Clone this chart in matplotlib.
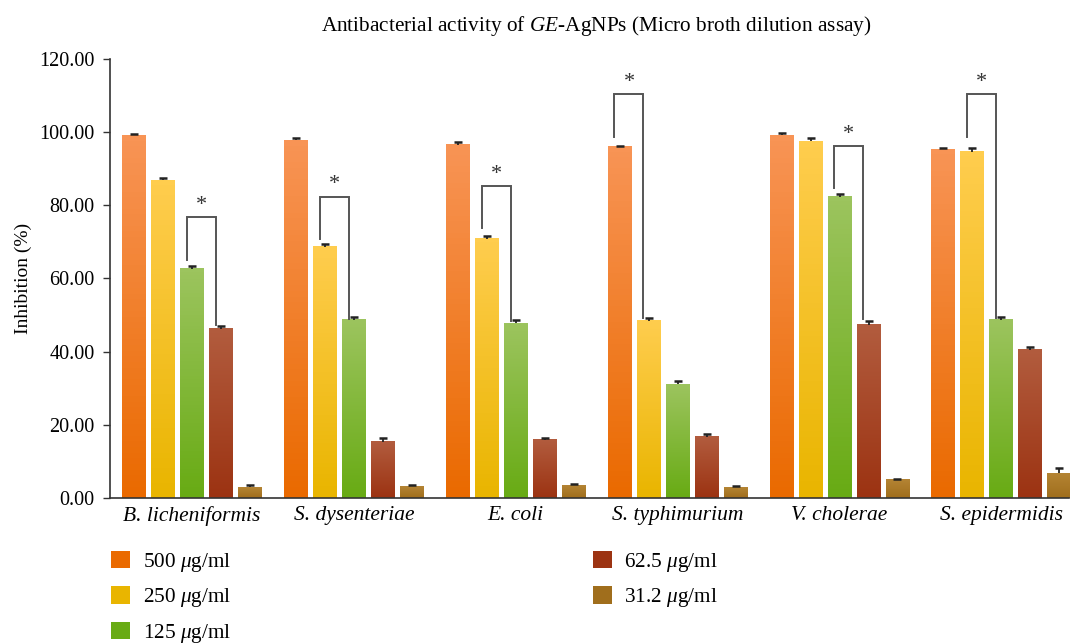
import numpy as np
import matplotlib
matplotlib.use("Agg")
import matplotlib.pyplot as plt
from matplotlib.colors import LinearSegmentedColormap
from matplotlib.patches import Patch

plt.rcParams["font.family"] = ["Liberation Serif", "DejaVu Serif"]
plt.rcParams["mathtext.fontset"] = "custom"
plt.rcParams["mathtext.rm"] = "Liberation Serif"
plt.rcParams["mathtext.it"] = "Liberation Serif:italic"

# ---- data ----
species = ["B. licheniformis", "S. dysenteriae", "E. coli",
           "S. typhimurium", "V. cholerae", "S. epidermidis"]
doses = ["500 $\\mu$g/ml", "250 $\\mu$g/ml", "125 $\\mu$g/ml",
         "62.5 $\\mu$g/ml", "31.2 $\\mu$g/ml"]

inh_500 = [99.2, 97.8, 96.6, 96.0, 99.1, 95.3]
inh_250 = [86.8, 68.7, 70.8, 48.4, 97.5, 94.7]
inh_125 = [62.7, 48.7, 47.8, 31.1, 82.3, 48.7]
inh_62 = [46.2, 15.4, 15.9, 16.7, 47.3, 40.5]
inh_31 = [3.0, 3.2, 3.5, 3.0, 5.1, 6.8]

err_500 = [0.4, 0.6, 0.7, 0.3, 0.6, 0.3]
err_250 = [0.8, 0.8, 0.9, 0.8, 0.8, 0.9]
err_125 = [0.8, 0.8, 0.9, 0.9, 0.9, 0.7]
err_62 = [0.7, 0.9, 0.5, 0.9, 1.0, 0.8]
err_31 = [0.5, 0.3, 0.3, 0.4, 0.2, 1.5]

# significance brackets: (species idx, left dose idx, right dose idx,
#                         top, left leg end, right leg end)
brackets = [
    (0, 2, 3, 76.8, 65.0, 47.3),
    (1, 1, 2, 82.4, 70.8, 49.0),
    (2, 1, 2, 85.3, 73.8, 48.4),
    (3, 0, 1, 110.5, 98.8, 49.2),
    (4, 2, 3, 96.2, 84.7, 48.8),
    (5, 1, 2, 110.5, 98.8, 49.2),
]

# gradient colours (top, bottom)
grads = [("#f89455", "#ea6a00"),
         ("#ffcd4e", "#e9b500"),
         ("#9cc45e", "#68ab14"),
         ("#b25c3e", "#9c3312"),
         ("#b48434", "#a06e1c")]

series = [inh_500, inh_250, inh_125, inh_62, inh_31]
errors = [err_500, err_250, err_125, err_62, err_31]

fig = plt.figure(figsize=(10.72, 6.44), dpi=100)
ax = fig.add_axes([0.1026, 0.2267, 0.895, 0.6817])

x = np.arange(len(species))
step = 0.179
width = 0.148

for k, (vals, errs) in enumerate(zip(series, errors)):
    pos = x + (k - 2) * step
    bars = ax.bar(pos, vals, width, color="none", edgecolor="none", zorder=2)
    cmap = LinearSegmentedColormap.from_list(f"g{k}", [grads[k][1], grads[k][0]])
    for b in bars:
        grad = np.linspace(0, 1, 64).reshape(-1, 1)
        ax.imshow(grad, cmap=cmap, origin="lower", aspect="auto",
                  extent=[b.get_x(), b.get_x() + b.get_width(), 0, b.get_height()],
                  zorder=2)
    tops = np.array(vals) + np.array(errs)
    # one-sided error bars with only an upper cap
    ax.vlines(pos, vals, tops, color="#222222", lw=1.3, zorder=3)
    ax.plot(pos, tops, ls="none", marker="_", ms=6, mew=1.8, color="#222222", zorder=3)

off = -0.032
for gi, a, b, top, yl, yr in brackets:
    xl = x[gi] + (a - 2) * step + off
    xr = x[gi] + (b - 2) * step + off
    ax.plot([xl, xl, xr, xr], [yl, top, top, yr], color="#555555", lw=1.4,
            zorder=4, solid_joinstyle="miter")
    ax.text((xl + xr) / 2, top + 0.6, "*", ha="center", va="bottom",
            fontsize=16, color="#333333")

ax.set_xlim(-0.506, 5.42)
ax.set_ylim(0, 120)
ax.set_yticks(np.arange(0, 121, 20))
ax.set_yticklabels([f"{v:.2f}" for v in np.arange(0, 121, 20)], fontsize=14.5)
ax.set_xticks(x)
ax.set_xticklabels(species, fontsize=15.5, style="italic")
ax.tick_params(axis="x", length=0, pad=6)
ax.tick_params(axis="y", direction="out", length=5, width=1, color="#333333", pad=6)
ax.spines["top"].set_visible(False)
ax.spines["right"].set_visible(False)
for s in ("left", "bottom"):
    ax.spines[s].set_color("#333333")
    ax.spines[s].set_linewidth(1.2)
ax.set_ylabel("Inhibition (%)", fontsize=14, labelpad=5)

fig.text(0.556, 0.959, "Antibacterial activity of $\\it{GE}$-AgNPs (Micro broth dilution assay)",
         ha="center", va="center", fontsize=15.3)

handles = [Patch(facecolor=c[1], edgecolor="none") for c in grads]
leg = fig.legend(handles, doses, loc="upper left", bbox_to_anchor=(0.1035, 0.145),
                 ncol=2, frameon=False, fontsize=15.3, handlelength=0.9,
                 handleheight=0.9, handletextpad=0.6, labelspacing=0.58,
                 columnspacing=17.0, borderaxespad=0, borderpad=0)

fig.savefig("out.png", dpi=100)
